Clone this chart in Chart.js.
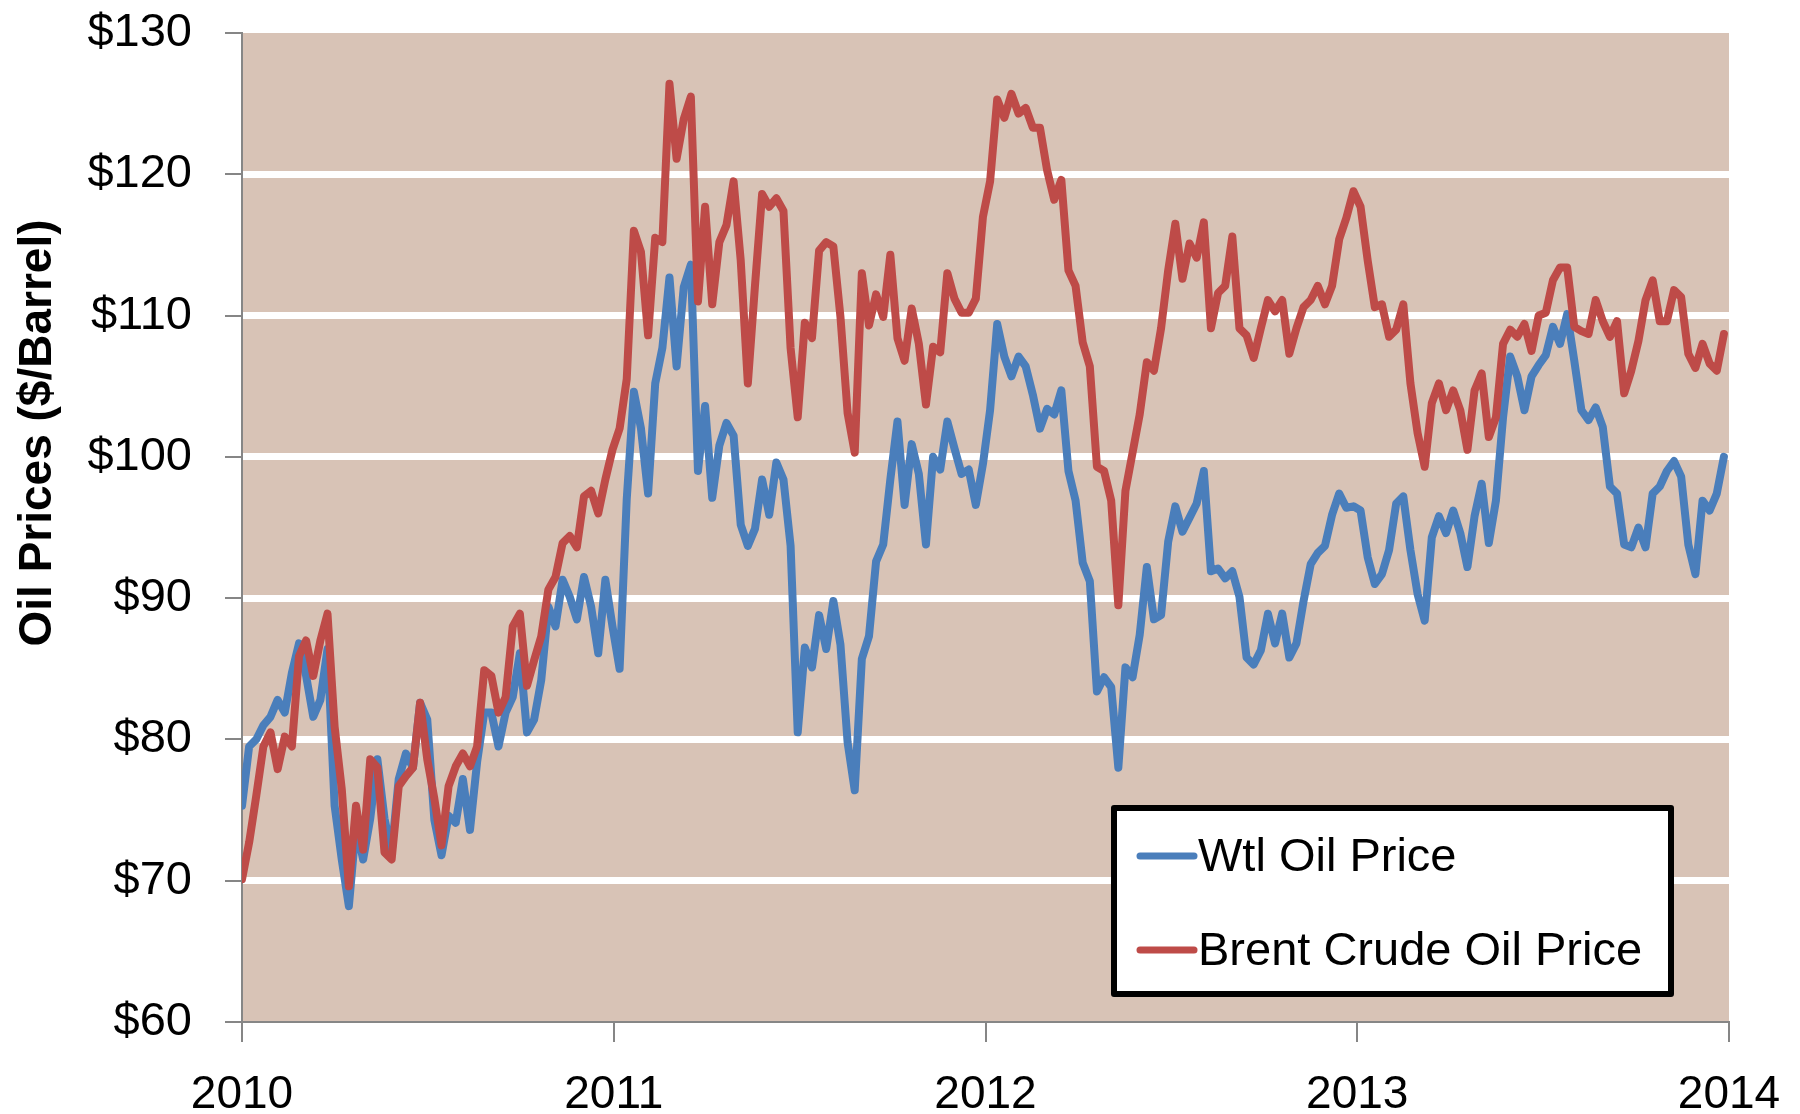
<!DOCTYPE html>
<html>
<head>
<meta charset="utf-8">
<script src="https://cdn.jsdelivr.net/npm/chart.js@4/dist/chart.umd.min.js"></script>
<style>
  html, body { margin: 0; padding: 0; background: #fff; }
  #wrap { width: 1800px; height: 1114px; }
</style>
</head>
<body>
<div id="wrap"><canvas id="oilChart" width="1800" height="1114"></canvas></div>
<script>
// weekly readings, first week of 2010 through last week of 2013
const wti = [
  75.3, 79.5, 80.0, 81.0, 81.6, 82.8, 81.9, 84.7, 86.8, 84.5,
  81.6, 82.8, 86.4, 75.3, 71.5, 68.2, 73.9, 71.5, 74.4, 78.6,
  74.4, 72.0, 77.2, 79.0, 78.0, 82.6, 81.4, 74.3, 71.8, 74.6,
  74.1, 77.2, 73.6, 78.4, 81.9, 81.9, 79.5, 81.9, 83.0, 86.1,
  80.5, 81.4, 84.2, 89.4, 88.0, 91.3, 90.1, 88.5, 91.5, 89.4,
  86.1, 91.3, 88.0, 85.0, 97.0, 104.6, 102.0, 97.4, 105.2, 107.7,
  112.7, 106.4, 112.0, 113.6, 99.0, 103.6, 97.1, 100.8, 102.4, 101.5,
  95.2, 93.7, 94.9, 98.4, 95.9, 99.6, 98.4, 93.7, 80.5, 86.5,
  85.1, 88.8, 86.4, 89.8, 86.7, 79.8, 76.4, 85.7, 87.3, 92.6,
  93.8, 98.4, 102.5, 96.6, 100.9, 98.8, 93.8, 100.0, 99.1, 102.5,
  100.6, 98.8, 99.1, 96.6, 99.5, 103.3, 109.4, 107.1, 105.7, 107.1,
  106.4, 104.4, 102.0, 103.4, 103.0, 104.7, 99.0, 96.9, 92.5, 91.2,
  83.4, 84.4, 83.7, 78.0, 85.1, 84.4, 87.4, 92.2, 88.5, 88.8,
  94.0, 96.5, 94.7, 95.7, 96.7, 99.0, 91.9, 92.1, 91.4, 91.9,
  90.1, 85.8, 85.3, 86.3, 88.9, 86.8, 88.9, 85.8, 86.8, 89.8,
  92.4, 93.2, 93.7, 95.9, 97.4, 96.4, 96.5, 96.2, 92.9, 91.0,
  91.7, 93.4, 96.7, 97.2, 93.4, 90.3, 88.4, 94.3, 95.8, 94.6,
  96.2, 94.6, 92.2, 95.8, 98.1, 93.9, 96.9, 102.8, 107.1, 105.7,
  103.3, 105.7, 106.5, 107.2, 109.2, 108.0, 110.1, 106.8, 103.3, 102.6,
  103.5, 102.1, 97.9, 97.4, 93.8, 93.6, 95.0, 93.6, 97.4, 97.9,
  99.0, 99.7, 98.6, 93.8, 91.7, 96.9, 96.2, 97.4, 100.0
];

const brent = [
  70.1, 72.7, 76.0, 79.5, 80.5, 77.9, 80.2, 79.5, 85.9, 87.0,
  84.5, 87.0, 88.9, 80.9, 76.5, 69.6, 75.3, 72.2, 78.6, 78.0,
  72.0, 71.5, 76.7, 77.4, 78.0, 82.6, 78.6, 75.8, 72.5, 76.7,
  78.1, 79.0, 78.1, 79.5, 84.9, 84.5, 81.9, 83.0, 88.0, 88.9,
  83.8, 85.6, 87.3, 90.6, 91.5, 93.9, 94.4, 93.6, 97.2, 97.6,
  96.0, 98.4, 100.5, 102.0, 105.5, 116.0, 114.5, 108.6, 115.5, 115.2,
  126.4, 121.1, 123.9, 125.5, 111.0, 117.7, 110.8, 115.2, 116.4, 119.5,
  113.9, 105.2, 112.1, 118.6, 117.7, 118.3, 117.4, 107.7, 102.8, 109.5,
  108.4, 114.6, 115.2, 114.9, 109.9, 103.1, 100.3, 113.0, 109.3, 111.5,
  109.9, 114.3, 108.4, 106.8, 110.5, 108.0, 103.7, 107.8, 107.4, 113.0,
  111.2, 110.2, 110.2, 111.2, 117.0, 119.5, 125.3, 124.0, 125.7, 124.3,
  124.7, 123.3, 123.3, 120.3, 118.2, 119.6, 113.2, 112.1, 108.1, 106.4,
  99.3, 99.0, 96.9, 89.5, 97.6, 100.3, 103.0, 106.7, 106.1, 109.1,
  113.2, 116.5, 112.6, 115.1, 114.1, 116.6, 109.1, 111.6, 112.1, 115.6,
  109.1, 108.6, 107.0, 109.1, 111.1, 110.3, 111.1, 107.3, 109.1, 110.6,
  111.1, 112.1, 110.8, 112.1, 115.4, 116.9, 118.8, 117.7, 113.9, 110.6,
  110.8, 108.5, 109.0, 110.8, 105.2, 101.7, 99.3, 103.8, 105.2, 103.3,
  104.7, 103.3, 100.5, 104.7, 105.9, 101.4, 102.8, 108.0, 109.0, 108.5,
  109.4, 107.5, 110.0, 110.2, 112.5, 113.4, 113.4, 109.2, 108.9, 108.7,
  111.1, 109.6, 108.5, 109.6, 104.5, 106.1, 108.2, 111.1, 112.5, 109.6,
  109.6, 111.8, 111.3, 107.3, 106.3, 108.0, 106.6, 106.1, 108.7
];

const yearTicks = [2010, 2011, 2012, 2013, 2014];
const priceTicks = [60, 70, 80, 90, 100, 110, 120, 130];
const seriesNames = ['Wtl Oil Price', 'Brent Crude Oil Price'];

const START_YEAR = 2010;
const WEEK = 7 / 365.25;
const toPoints = arr => arr.map((v, i) => ({ x: START_YEAR + i * WEEK, y: v }));

const BLUE = '#4A7EBB';
const RED = '#BE4B48';
const AXIS_GREY = '#868686';
const NONE = 'rgba(0,0,0,0)';
const FONT = "'Liberation Sans', Arial, sans-serif";

// ------------------------------------------------------------------
// plot background, short grey tick marks, axis title, boxed legend
// ------------------------------------------------------------------
const plotBg = {
  id: 'plotBg',
  beforeDraw(chart) {
    const { ctx, chartArea: a } = chart;
    ctx.save();
    ctx.fillStyle = '#fff';
    ctx.fillRect(0, 0, chart.width, chart.height);
    ctx.fillStyle = '#D8C3B6';
    ctx.fillRect(a.left, a.top, a.right - a.left, a.bottom - a.top);
    ctx.restore();
  },
};

// Chart.js puts the label padding into the layout, so the real tick
// marks are drawn here and the library's own ones are left invisible.
const tickMarks = {
  id: 'tickMarks',
  afterDraw(chart) {
    const { ctx, chartArea: a, scales } = chart;
    ctx.save();
    ctx.strokeStyle = AXIS_GREY;
    ctx.lineWidth = 2;
    ctx.beginPath();
    scales.y.ticks.forEach(t => {
      const py = Math.round(scales.y.getPixelForValue(t.value));
      ctx.moveTo(a.left - 17, py);
      ctx.lineTo(a.left, py);
    });
    scales.x.ticks.forEach(t => {
      const px = Math.round(scales.x.getPixelForValue(t.value));
      ctx.moveTo(px, a.bottom);
      ctx.lineTo(px, a.bottom + 20);
    });
    ctx.stroke();
    ctx.restore();
  },
};

const yTitle = {
  id: 'yTitle',
  afterDraw(chart) {
    const { ctx } = chart;
    ctx.save();
    ctx.translate(38, 433);
    ctx.rotate(-Math.PI / 2);
    ctx.font = `bold 46px ${FONT}`;
    ctx.fillStyle = '#000';
    ctx.textAlign = 'center';
    ctx.textBaseline = 'middle';
    ctx.fillText('Oil Prices ($/Barrel)', 0, 0);
    ctx.restore();
  },
};

const boxLegend = {
  id: 'boxLegend',
  afterDraw(chart) {
    const { ctx, chartArea: a } = chart;
    const left = a.right - 615, top = a.bottom - 214, w = 557, h = 186;
    ctx.save();
    ctx.fillStyle = '#fff';
    ctx.strokeStyle = '#000';
    ctx.lineWidth = 6;
    ctx.lineJoin = 'round';
    ctx.fillRect(left, top, w, h);
    ctx.strokeRect(left, top, w, h);

    ctx.font = `47px ${FONT}`;
    ctx.textBaseline = 'middle';
    ctx.fillStyle = '#000';
    chart.data.datasets.forEach((ds, i) => {
      const cy = top + 48 + i * 94;
      ctx.strokeStyle = ds.borderColor;
      ctx.lineWidth = 7;
      ctx.lineCap = 'round';
      ctx.beginPath();
      ctx.moveTo(left + 26, cy);
      ctx.lineTo(left + 80, cy);
      ctx.stroke();
      ctx.fillText(ds.label, left + 84, cy + 2);
    });
    ctx.restore();
  },
};

new Chart(document.getElementById('oilChart'), {
  type: 'line',
  data: {
    datasets: [
      {
        label: seriesNames[0],
        data: toPoints(wti),
        borderColor: BLUE,
        borderWidth: 8,
        order: 1,
      },
      {
        label: seriesNames[1],
        data: toPoints(brent),
        borderColor: RED,
        borderWidth: 8,
        order: 0,
      },
    ],
  },
  options: {
    responsive: false,
    devicePixelRatio: 1,
    animation: false,
    elements: {
      point: { radius: 0 },
      line: { tension: 0, borderJoinStyle: 'round', borderCapStyle: 'round' },
    },
    layout: { padding: { top: 33, right: 71, left: 0, bottom: 0 } },
    plugins: { legend: { display: false }, tooltip: { enabled: false } },
    scales: {
      x: {
        type: 'linear',
        min: 2010,
        max: 2014,
        afterBuildTicks: s => { s.ticks = yearTicks.map(v => ({ value: v })); },
        afterFit: s => { s.height = 92; },
        ticks: {
          callback: v => String(v),
          font: { family: FONT, size: 46 },
          color: '#000',
          padding: 2,
          maxRotation: 0,
        },
        grid: {
          drawOnChartArea: false,
          tickLength: 44,
          tickColor: NONE,
          color: NONE,
        },
        border: { color: AXIS_GREY, width: 2 },
      },
      y: {
        min: 60,
        max: 130,
        afterBuildTicks: s => { s.ticks = priceTicks.map(v => ({ value: v })); },
        afterFit: s => { s.width = 242; },
        ticks: {
          callback: v => '$' + v,
          font: { family: FONT, size: 47 },
          color: '#000',
          padding: 2,
        },
        grid: {
          color: c => (c.tick && (c.tick.value === 60 || c.tick.value === 130)) ? NONE : '#fff',
          lineWidth: 7,
          tickLength: 48,
          tickColor: NONE,
        },
        border: { color: AXIS_GREY, width: 2 },
      },
    },
  },
  plugins: [plotBg, tickMarks, yTitle, boxLegend],
});
</script>
</body>
</html>
